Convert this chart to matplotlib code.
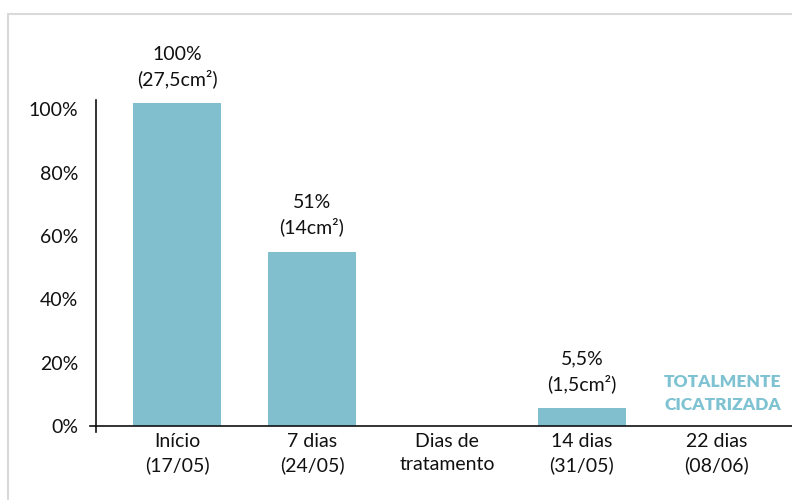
import matplotlib
matplotlib.use("Agg")
import matplotlib.pyplot as plt
from matplotlib.patches import Rectangle

# Data
categories = ["Início\n(17/05)", "7 dias\n(24/05)", "Dias de\ntratamento",
              "14 dias\n(31/05)", "22 dias\n(08/06)"]
values = [102, 55, 0, 5.6, 0]
bar_labels = ["100%\n(27,5cm²)", "51%\n(14cm²)", "", "5,5%\n(1,5cm²)", ""]
yticks = [0, 20, 40, 60, 80, 100]
ytick_labels = ["0%", "20%", "40%", "60%", "80%", "100%"]
healed_text = "TOTALMENTE\nCICATRIZADA"

bar_color = "#82bfce"
healed_color = "#7fc3d2"
font = ["Lato", "DejaVu Sans"]
plt.rcParams['font.family'] = font

fig = plt.figure(figsize=(7.92, 5.0), dpi=100)
ax = fig.add_axes([96 / 792, 74 / 500, 696 / 792, 326 / 500])

x = list(range(len(categories)))
bars = ax.bar(x, values, width=0.65, color=bar_color, zorder=2)

for rect, lab in zip(bars, bar_labels):
    if lab:
        ax.annotate(lab, (rect.get_x() + rect.get_width() / 2, rect.get_height()),
                    xytext=(0, 11), textcoords="offset points",
                    ha="center", va="bottom", fontsize=14, color="#111111",
                    linespacing=1.4)

# label for the last (healed) category
ax.annotate(healed_text, (x[-1], 0), xytext=(4, 9), textcoords="offset points",
            ha="center", va="bottom", fontsize=12.5, fontweight="heavy",
            color=healed_color, linespacing=1.55)

ax.set_xlim(-0.6, 4.556)
ax.set_ylim(0, 103)
ax.set_xticks(x)
ax.set_xticklabels(categories, fontsize=14, linespacing=1.4)
ax.set_yticks(yticks)
ax.set_yticklabels(ytick_labels, fontsize=14)
ax.tick_params(axis="both", length=0, pad=5, colors="#111111")
ax.tick_params(axis="y", pad=13)

for s in ["top", "right"]:
    ax.spines[s].set_visible(False)
for s in ["left", "bottom"]:
    ax.spines[s].set_color("#111111")
    ax.spines[s].set_linewidth(1.2)

# small cross at the origin
ax.plot([-0.009, 0], [0, 0], transform=ax.transAxes, color="#111111", lw=1.2, clip_on=False)
ax.plot([0, 0], [-0.018, 0], transform=ax.transAxes, color="#111111", lw=1.2, clip_on=False)

# outer light frame
fig.add_artist(Rectangle((8 / 792, -0.1), 1.5, (486 / 500) + 0.1,
                         transform=fig.transFigure, fill=False,
                         edgecolor="#d9d9d9", lw=1.5))

fig.savefig("out.png", dpi=100)
